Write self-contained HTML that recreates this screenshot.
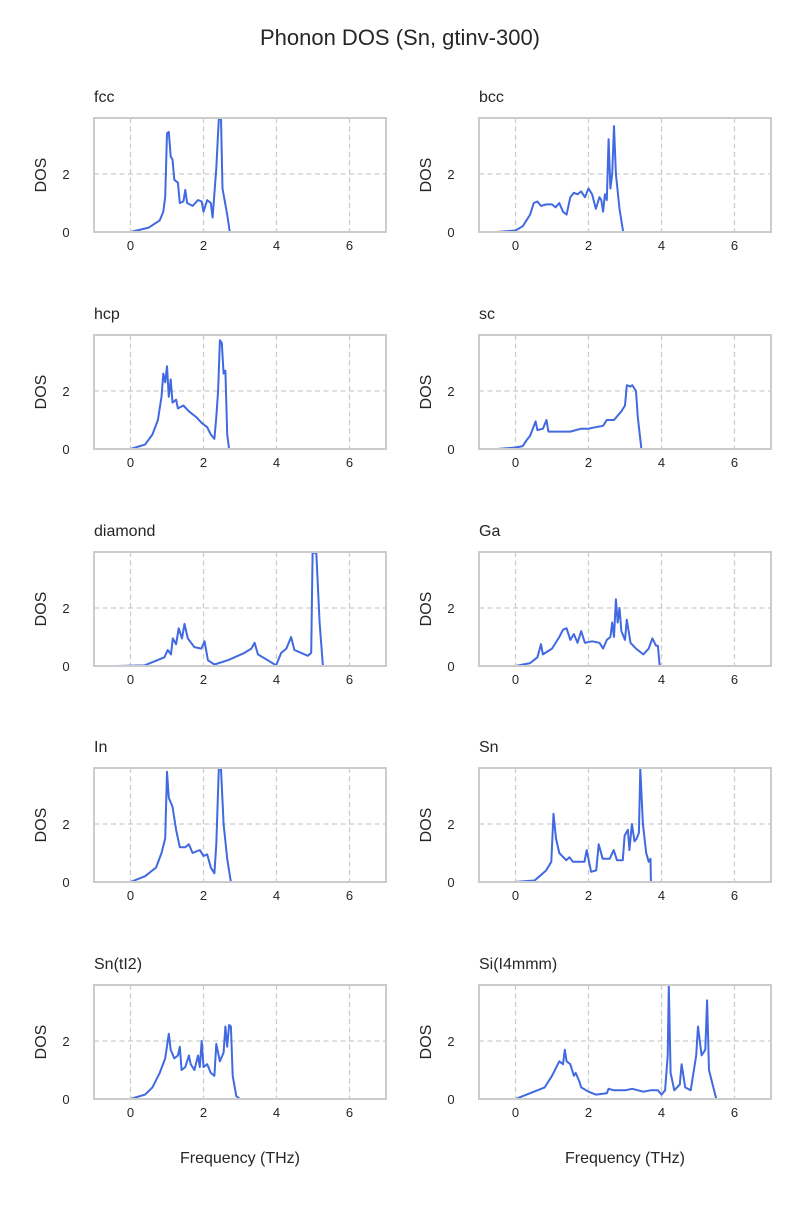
<!DOCTYPE html>
<html><head><meta charset="utf-8"><style>
body{margin:0;background:#fff}
svg text{font-family:"Liberation Sans","DejaVu Sans",sans-serif;fill:#262626}
</style></head><body>
<svg id="fig" width="800" height="1200" xmlns="http://www.w3.org/2000/svg">
<text x="400" y="45" text-anchor="middle" font-size="22">Phonon DOS (Sn, gtinv-300)</text>
</svg>
<script>
const titles=["fcc","bcc","hcp","sc","diamond","Ga","In","Sn","Sn(tI2)","Si(I4mmm)"];
const xTicks=[0,2,4,6];
const yTicks=[0,2];
const fccF=[-0.3,0,0.5,0.8,0.9,0.95,1.0,1.05,1.1,1.15,1.2,1.3,1.35,1.45,1.5,1.55,1.7,1.85,1.95,2.0,2.1,2.2,2.25,2.35,2.42,2.48,2.52,2.65,2.72,3.0];
const fccD=[0,0,0.15,0.4,0.7,1.2,3.4,3.45,2.6,2.5,1.8,1.7,1.0,1.05,1.45,1.0,0.9,1.1,1.05,0.7,1.1,1.0,0.5,2.2,3.9,3.9,1.5,0.6,0,0];
const bccF=[-0.5,0,0.2,0.4,0.5,0.6,0.7,0.85,1.0,1.1,1.2,1.3,1.4,1.5,1.6,1.7,1.8,1.9,2.0,2.1,2.2,2.3,2.35,2.4,2.45,2.5,2.55,2.6,2.65,2.7,2.75,2.85,2.95,3.2];
const bccD=[0,0.05,0.2,0.6,1.0,1.05,0.9,0.95,0.95,0.85,1.0,0.7,0.6,1.2,1.35,1.3,1.4,1.2,1.5,1.3,0.8,1.2,1.1,0.7,1.3,1.1,3.2,1.5,2.0,3.65,2.0,0.8,0,0];
const hcpF=[-0.1,0,0.4,0.6,0.75,0.85,0.9,0.95,1.0,1.05,1.1,1.15,1.25,1.3,1.45,1.6,1.8,1.95,2.1,2.2,2.3,2.35,2.4,2.45,2.5,2.55,2.6,2.65,2.7,3.0];
const hcpD=[0,0,0.15,0.5,1.0,1.8,2.6,2.3,2.85,1.8,2.4,1.6,1.7,1.4,1.5,1.3,1.1,0.9,0.75,0.5,0.35,1.1,2.0,3.75,3.65,2.6,2.7,0.5,0,0];
const scF=[-0.5,0,0.2,0.3,0.4,0.55,0.6,0.75,0.85,0.9,1.2,1.5,1.8,2.0,2.2,2.4,2.5,2.7,2.9,3.0,3.05,3.15,3.2,3.3,3.35,3.45,3.8];
const scD=[0,0.05,0.1,0.3,0.45,0.95,0.65,0.7,1.0,0.6,0.6,0.6,0.7,0.7,0.75,0.8,1.0,1.0,1.3,1.5,2.2,2.15,2.2,2.0,1.1,0,0];
const diaF=[-0.4,0.38,0.93,1.02,1.11,1.16,1.25,1.32,1.41,1.48,1.57,1.66,1.75,1.94,2.03,2.12,2.3,2.67,3.12,3.31,3.4,3.49,3.76,3.99,4.13,4.27,4.4,4.49,4.86,4.95,4.99,5.09,5.18,5.27,5.77];
const diaD=[0,0.02,0.3,0.55,0.4,0.95,0.75,1.3,0.95,1.45,0.95,0.8,0.65,0.6,0.85,0.2,0.05,0.2,0.45,0.6,0.8,0.4,0.2,0.02,0.45,0.6,1.0,0.55,0.35,0.45,3.9,3.9,1.5,0,0];
const gaF=[-0.5,0,0.4,0.6,0.7,0.75,1.0,1.2,1.3,1.4,1.5,1.6,1.7,1.8,1.9,2.1,2.3,2.4,2.5,2.6,2.65,2.7,2.75,2.8,2.85,2.9,3.0,3.05,3.15,3.3,3.5,3.65,3.75,3.85,3.9,3.95,4.3];
const gaD=[0,0,0.1,0.3,0.75,0.4,0.6,1.0,1.25,1.3,0.9,1.1,0.8,1.2,0.8,0.85,0.8,0.6,0.9,1.0,1.5,1.0,2.3,1.5,2.0,1.2,0.9,1.6,0.8,0.6,0.4,0.6,0.95,0.7,0.7,0,0];
const inF=[-0.1,0,0.4,0.7,0.85,0.95,1.0,1.05,1.15,1.25,1.35,1.5,1.6,1.7,1.8,1.9,2.0,2.1,2.2,2.3,2.35,2.42,2.48,2.55,2.65,2.75,3.0];
const inD=[0,0,0.2,0.5,1.0,1.5,3.8,2.9,2.6,1.8,1.2,1.2,1.3,1.0,1.05,1.1,0.9,0.95,0.5,0.3,1.3,3.9,3.9,2.0,0.8,0,0];
const snF=[-0.03,0.52,0.66,0.84,0.98,1.04,1.11,1.2,1.39,1.48,1.57,1.75,1.89,1.95,2.03,2.07,2.21,2.28,2.39,2.58,2.69,2.78,2.94,2.99,3.08,3.12,3.19,3.26,3.32,3.38,3.42,3.49,3.58,3.65,3.7,3.71,4.0];
const snD=[0,0.05,0.2,0.4,0.7,2.35,1.5,1.0,0.75,0.85,0.7,0.7,0.7,1.1,0.6,0.35,0.4,1.3,0.8,0.8,1.1,0.75,0.75,1.6,1.8,1.1,2.0,1.4,1.5,1.7,3.9,2.0,1.0,0.7,0.8,0,0];
const tiF=[-0.1,0,0.4,0.6,0.8,0.95,1.05,1.1,1.2,1.3,1.35,1.4,1.5,1.6,1.65,1.75,1.85,1.9,1.95,2.0,2.1,2.2,2.3,2.35,2.45,2.55,2.6,2.65,2.7,2.75,2.8,2.9,3.0,3.3];
const tiD=[0,0,0.15,0.4,0.9,1.4,2.25,1.7,1.4,1.5,1.8,1.0,1.1,1.5,1.2,1.0,1.5,1.1,2.0,1.1,1.2,0.9,0.8,1.9,1.3,1.6,2.5,1.8,2.55,2.5,0.8,0.1,0,0];
const siF=[-1,0,0.4,0.8,1.0,1.2,1.3,1.35,1.4,1.5,1.6,1.65,1.75,1.8,2.0,2.2,2.5,2.55,2.7,3.0,3.2,3.5,3.7,3.9,4.0,4.1,4.17,4.2,4.25,4.35,4.5,4.55,4.65,4.8,4.95,5.0,5.1,5.2,5.25,5.3,5.4,5.5,6.2];
const siD=[0,0,0.2,0.4,0.8,1.3,1.2,1.7,1.3,1.2,0.8,0.9,0.6,0.4,0.25,0.15,0.2,0.35,0.3,0.3,0.35,0.25,0.3,0.3,0.15,0.3,1.5,3.9,0.9,0.3,0.5,1.2,0.4,0.3,1.5,2.5,1.5,1.7,3.4,1.0,0.5,0,0];
const freqs=[fccF,bccF,hcpF,scF,diaF,gaF,inF,snF,tiF,siF];
const doses=[fccD,bccD,hcpD,scD,diaD,gaD,inD,snD,tiD,siD];

const NS="http://www.w3.org/2000/svg";
const svg=document.getElementById('fig');
function mk(tag,attrs,parent){const e=document.createElementNS(NS,tag);for(const k in attrs)e.setAttribute(k,attrs[k]);(parent||svg).appendChild(e);return e;}
const lefts=[94,479], tops=[118,335,552,768,985], W=292, H=114;
const xMin=-1,xMax=7,yMin=0,yMax=3.93;
for(let i=0;i<10;i++){
  const col=i%2,row=Math.floor(i/2);
  const x0=lefts[col],y0=tops[row];
  const sx=v=>x0+(v-xMin)/(xMax-xMin)*W;
  const sy=v=>y0+H-(v-yMin)/(yMax-yMin)*H;
  const g=mk('g',{});
  
  
  const cp=mk('clipPath',{id:'cp'+i},g);mk('rect',{x:x0,y:y0,width:W,height:H},cp);
  xTicks.forEach(t=>{const l=mk('line',{x1:sx(t),x2:sx(t),y1:y0,y2:y0+H,stroke:'#cccccc','stroke-width':1.3,'stroke-dasharray':'5,3.5'},g);
    
    const tx=mk('text',{x:sx(t),y:y0+H+18,'text-anchor':'middle','font-size':13},g);tx.textContent=t;
    });
  yTicks.forEach(t=>{const l=mk('line',{x1:x0,x2:x0+W,y1:sy(t),y2:sy(t),stroke:'#cccccc','stroke-width':1.3,'stroke-dasharray':'5,3.5'},g);
    
    const tx=mk('text',{x:x0-28,y:sy(t)+5,'text-anchor':'middle','font-size':13},g);tx.textContent=t;
    });
  const pts=freqs[i].map((f,j)=>sx(f).toFixed(1)+','+sy(doses[i][j]).toFixed(1)).join(' ');
  const pl=mk('polyline',{points:pts,fill:'none',stroke:'#4169e1','stroke-width':2,'stroke-linejoin':'round','clip-path':'url(#cp'+i+')'},g);
  
  const fr=mk('rect',{x:x0,y:y0,width:W,height:H,fill:'none',stroke:'#cccccc','stroke-width':2},g);
  
  const tt=mk('text',{x:x0,y:y0-16,'font-size':16},g);tt.textContent=titles[i];
  
  const yl=mk('text',{x:0,y:0,'font-size':16,'text-anchor':'middle',transform:'translate('+(x0-48)+','+(y0+H/2)+') rotate(-90)'},g);yl.textContent='DOS';
  
  if(row===4){const xl=mk('text',{x:x0+W/2,y:y0+H+64,'text-anchor':'middle','font-size':16},g);xl.textContent='Frequency (THz)';
    }
}
</script>
</body></html>
